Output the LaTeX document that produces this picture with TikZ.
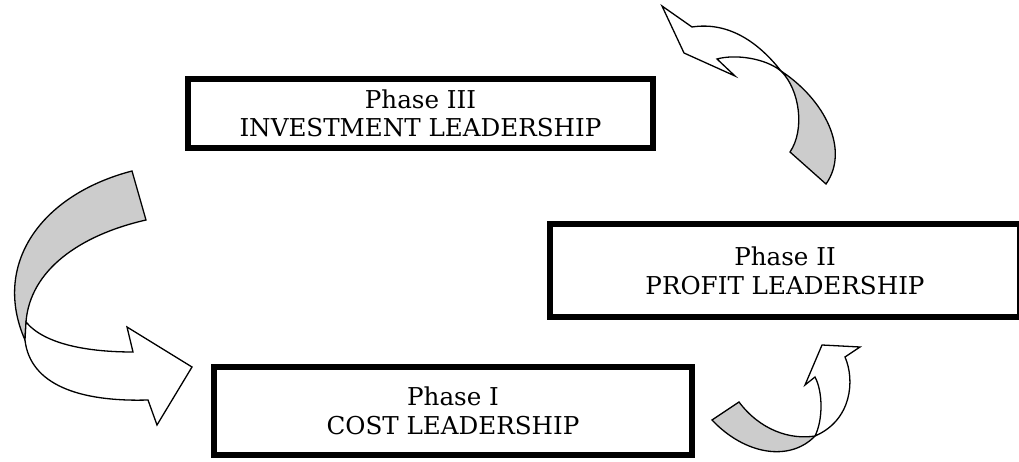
\documentclass[tikz,border=0pt]{standalone}
\usepackage{fontspec}
\setmainfont{DejaVu Serif}
\usepackage{tikz}
\definecolor{ribbongray}{RGB}{204,204,204}

\begin{document}
\begin{tikzpicture}[x=1pt, y=-1pt, every node/.style={font=\fontsize{24.6}{28.5}\selectfont, align=center},
		ribbon/.style={draw=black, line width=1.3pt, line join=miter}]
			\useasboundingbox (0,0) rectangle (1019,462);
			\draw[color=black]
			node[draw,line width=6pt,minimum width=465pt,minimum height=69pt] (phase3) at (420.5,113.5){Phase III\\INVESTMENT LEADERSHIP}
			node[draw,line width=6pt,minimum width=470pt,minimum height=92.5pt] (phase2) at (785,270.75){Phase II\\PROFIT LEADERSHIP}
			node[draw,line width=6pt,minimum width=478pt,minimum height=88pt] (phase1) at (453,411){Phase I\\COST LEADERSHIP};
			% phase III to phase I
			\draw[ribbon, fill=ribbongray] (132,171) -- (146,220) .. controls (80,235) and (30,270) .. (26,322) -- (25,340) .. controls (-8,265) and (40,195) .. (132,171) -- cycle;
			\draw[ribbon, fill=white] (26,322) .. controls (45,345) and (90,352) .. (133,352) -- (127,327) -- (192,367) -- (157,425) -- (148,400) .. controls (80,402) and (30,385) .. (25,340) -- cycle;
			% phase I to phase II
			\draw[ribbon, fill=ribbongray] (712,420) -- (739,402) .. controls (760,430) and (790,440) .. (815,436) .. controls (790,462) and (745,455) .. (712,420) -- cycle;
			\draw[ribbon, fill=white] (815,436) .. controls (823,420) and (823,392) .. (815,377) -- (805,385) -- (822,345) -- (860,347) -- (845,357) .. controls (855,380) and (852,420) .. (815,436) -- cycle;
			% phase II to phase III
			\draw[ribbon, fill=ribbongray] (790,152) -- (826,184) .. controls (850,150) and (825,100) .. (781,71) .. controls (800,90) and (805,130) .. (790,152) -- cycle;
			\draw[ribbon, fill=white] (781,71) .. controls (755,38) and (725,22) .. (692,27) -- (662,6) -- (684,53) -- (735,76) -- (717,59) .. controls (735,54) and (765,58) .. (781,71) -- cycle;
		\end{tikzpicture}
\end{document}
